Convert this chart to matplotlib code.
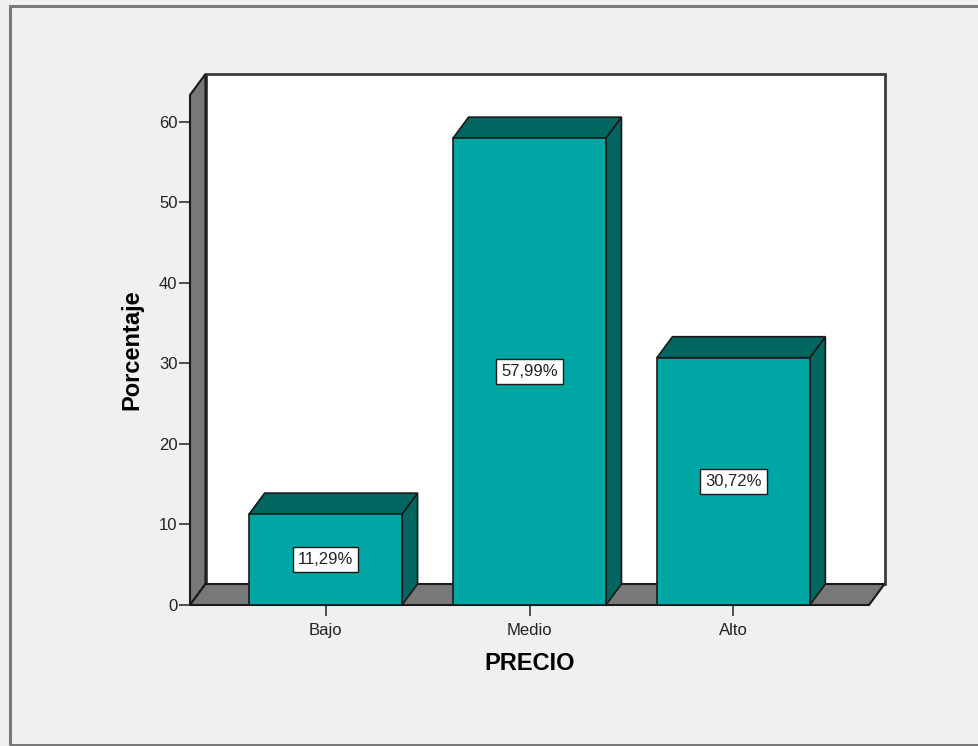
import matplotlib
matplotlib.use('Agg')
import matplotlib.pyplot as plt
from matplotlib.patches import Polygon, Rectangle

# ─── Data ─────────────────────────────────────────────────────────────────────
categorias = ['Bajo', 'Medio', 'Alto']
porcentajes = [11.29, 57.99, 30.72]
y_ticks = [0, 10, 20, 30, 40, 50, 60]

# ─── Style ────────────────────────────────────────────────────────────────────
BG = '#F0F0F0'
FRONT = '#00A6A3'
DARK = '#00665F'
WALL = '#787878'
EDGE = '#1A1A1A'
WALL_EDGE = '#3C3C3C'
TXT = '#222222'
plt.rcParams['font.family'] = ['Liberation Sans', 'DejaVu Sans']

W, H = 979, 746
fig = plt.figure(figsize=(W / 100, H / 100), dpi=100)
fig.patch.set_facecolor(BG)

# outer frame (open on the right)
fig.patches.append(Rectangle((10 / W, 1 - 745 / H), 1.2, (745 - 6) / H,
                             transform=fig.transFigure, facecolor='none',
                             edgecolor='#7A7A7A', linewidth=2.2, zorder=0))

# front plane of the 3D box, in pixels
L, R, B, T = 190, 869, 605, 95
ax = fig.add_axes([L / W, 1 - B / H, (R - L) / W, (B - T) / H])
ax.set_facecolor('none')
for s in ax.spines.values():
    s.set_visible(False)

X0, X1 = -0.665, 2.665
YMAX = 63.35
ax.set_xlim(X0, X1)
ax.set_ylim(0, YMAX)

# depth offset converted from pixels to data units
DX = 15.5 * (X1 - X0) / (R - L)
DY = 21.0 * YMAX / (B - T)
BW = 0.75

# back wall
ax.add_patch(Polygon([(X0 + DX, DY), (X1 + DX, DY), (X1 + DX, YMAX + DY),
                      (X0 + DX, YMAX + DY)], closed=True, facecolor='white',
                     edgecolor=WALL_EDGE, linewidth=2, clip_on=False, zorder=1))
# left wall
ax.add_patch(Polygon([(X0, 0), (X0, YMAX), (X0 + DX, YMAX + DY), (X0 + DX, DY)],
                     closed=True, facecolor=WALL, edgecolor=EDGE, linewidth=1.5,
                     clip_on=False, zorder=2))
# floor
ax.add_patch(Polygon([(X0, 0), (X1, 0), (X1 + DX, DY), (X0 + DX, DY)],
                     closed=True, facecolor=WALL, edgecolor=EDGE, linewidth=1.5,
                     clip_on=False, zorder=2))

xs = list(range(len(categorias)))
for x, v in zip(xs, porcentajes):
    xl, xr = x - BW / 2, x + BW / 2
    # side face
    ax.add_patch(Polygon([(xr, 0), (xr + DX, DY), (xr + DX, v + DY), (xr, v)],
                         closed=True, facecolor=DARK, edgecolor=EDGE,
                         linewidth=1.2, clip_on=False, zorder=3))
    # top face
    ax.add_patch(Polygon([(xl, v), (xr, v), (xr + DX, v + DY), (xl + DX, v + DY)],
                         closed=True, facecolor=DARK, edgecolor=EDGE,
                         linewidth=1.2, clip_on=False, zorder=3))

ax.bar(xs, porcentajes, width=BW, color=FRONT, edgecolor=EDGE,
       linewidth=1.2, zorder=4, clip_on=False)

for x, v in zip(xs, porcentajes):
    ax.text(x, v / 2, f'{v:.2f}%'.replace('.', ','), ha='center', va='center',
            fontsize=12, color=TXT, zorder=6,
            bbox=dict(boxstyle='square,pad=0.3', facecolor='white',
                      edgecolor=EDGE, linewidth=1.0))

ax.set_yticks(y_ticks)
ax.set_yticklabels([str(t) for t in y_ticks])
ax.set_xticks(xs)
ax.set_xticklabels(categorias)
ax.tick_params(axis='y', length=8, width=1.2, color='#333333', pad=1,
               labelsize=12, labelcolor=TXT)
ax.tick_params(axis='x', length=8, width=1.2, color='#333333', pad=5,
               labelsize=12, labelcolor=TXT)

ax.set_xlabel('PRECIO', fontsize=17, fontweight='bold', color='black')
ax.set_ylabel('Porcentaje', fontsize=17, fontweight='bold', color='black')
ax.xaxis.set_label_coords(0.5, (B - 663) / (B - T))
ax.xaxis.label.set_va('center')
ax.yaxis.set_label_coords((132 - L) / (R - L), 0.5)
ax.yaxis.label.set_va('center')

fig.savefig('out.png', dpi=100, facecolor=BG)
